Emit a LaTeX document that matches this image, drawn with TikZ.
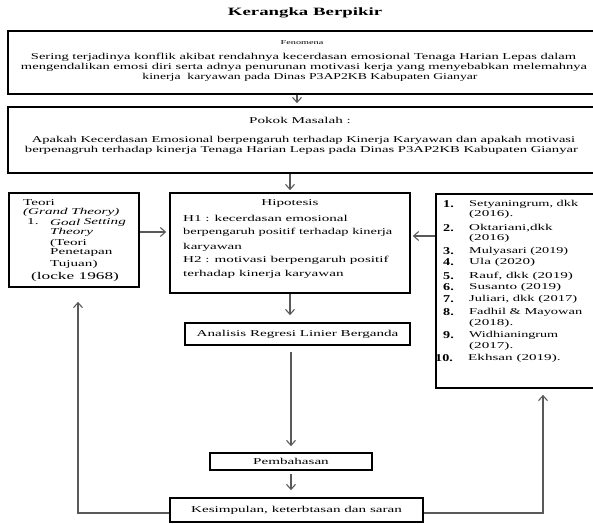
\documentclass[tikz,border=0pt]{standalone}
\usepackage{fontspec}
\usepackage{graphicx}
\setmainfont[FakeStretch=1.68]{Liberation Serif}
\newfontfamily\numfont[FakeStretch=1.35]{Liberation Serif}
\usetikzlibrary{arrows.meta}
\newcommand\fitw[2]{\resizebox{#1}{\height}{#2}}
\tikzset{
  box/.style={draw=black, line width=1.7pt, inner sep=0pt, fill=white},
  arr/.style={draw=black!65, line width=1.1pt, -{Straight Barb[length=5pt,width=9pt]}},
  txt/.style={inner sep=0pt, font=\fontsize{9}{10.3}\selectfont},
  lt/.style={txt, anchor=west},
  num/.style={inner sep=0pt, anchor=west, font=\numfont\fontsize{10.5}{12}\selectfont\bfseries},
}
\begin{document}
\begin{tikzpicture}[x=1pt,y=-1pt]
\useasboundingbox (0,0) rectangle (593,523);
\begin{scope}
\clip (0,0) rectangle (593,523);
% title
\node[inner sep=0pt, font=\fontsize{11.2}{13}\selectfont\bfseries] (title) at (305,13) {Kerangka Berpikir};

% boxes
\node[box, minimum width=594pt, minimum height=63pt] (fen) at (305,62.5) {};
\node[box, minimum width=594pt, minimum height=66pt] (pok) at (305,140) {};
\node[box, minimum width=130pt, minimum height=94pt] (teori) at (74,240) {};
\node[box, minimum width=240pt, minimum height=100pt] (hip) at (290,243) {};
\node[box, minimum width=166pt, minimum height=194pt] (refs) at (519,291) {};
\node[box, minimum width=225pt, minimum height=22pt] (ana) at (297.5,334) {};
\node[box, minimum width=162pt, minimum height=17pt] (pem) at (291,461.5) {};
\node[box, minimum width=253pt, minimum height=24pt] (kes) at (296.5,510) {};

% Fenomena
\node[txt, font=\fontsize{6.1}{8}\selectfont] (fent) at (302,43) {Fenomena};
\node[txt] (fen1) at (303.5,57) {\fitw{545pt}{Sering terjadinya konflik akibat rendahnya kecerdasan emosional Tenaga Harian Lepas dalam}};
\node[txt] (fen2) at (304,67.5) {\fitw{566pt}{mengendalikan emosi diri serta adnya penurunan motivasi kerja yang menyebabkan melemahnya}};
\node[txt] (fen3) at (310,77.5) {\fitw{335pt}{kinerja\ \ karyawan pada Dinas P3AP2KB Kabupaten Gianyar}};

% Pokok
\node[txt] (pokt) at (300,120) {Pokok Masalah :};
\node[txt] (pok1) at (303.5,140) {\fitw{543pt}{Apakah Kecerdasan Emosional berpengaruh terhadap Kinerja Karyawan dan apakah motivasi}};
\node[txt] (pok2) at (301.5,150) {\fitw{553pt}{berpenagruh terhadap kinerja Tenaga Harian Lepas pada Dinas P3AP2KB Kabupaten Gianyar}};

% Teori
\node[lt] (t1) at (23,202.5) {Teori};
\node[lt] (t2) at (23,212) {\itshape (Grand Theory)};
\node[lt] (t3) at (27,222) {1.};
\node[lt] (t4) at (50,222) {\itshape Goal};
\node[txt, anchor=east] (t5) at (126,222) {\itshape Setting};
\node[lt] (t6) at (50,232) {\itshape Theory};
\node[lt] (t7) at (50,243) {(Teori};
\node[lt] (t8) at (50,253) {Penetapan};
\node[lt] (t9) at (50,264) {Tujuan)};
\node[inner sep=0pt, font=\fontsize{10.3}{12}\selectfont] (t10) at (75,277) {(locke 1968)};

% Hipotesis
\node[txt] (h0) at (290,203) {Hipotesis};
\node[lt] (h1) at (183,218) {H1 : kecerdasan emosional};
\node[lt] (h2) at (183,232) {\fitw{209pt}{berpengaruh positif terhadap kinerja}};
\node[lt] (h3) at (183,247) {karyawan};
\node[lt] (h4) at (183,260) {H2 : motivasi berpengaruh positif};
\node[lt] (h5) at (183,274) {terhadap kinerja karyawan};

% References
\node[num] (n1) at (443,204) {1.};
\node[lt] (r1) at (469,204) {\fitw{109pt}{Setyaningrum, dkk}};
\node[lt] (r1b) at (469,214) {(2016).};
\node[num] (n2) at (443,228) {2.};
\node[lt] (r2) at (469,228) {Oktariani,dkk};
\node[lt] (r2b) at (469,238) {(2016)};
\node[num] (n3) at (443,251) {3.};
\node[lt] (r3) at (469,251) {\fitw{99pt}{Mulyasari (2019)}};
\node[num] (n4) at (443,262) {4.};
\node[lt] (r4) at (469,262) {Ula (2020)};
\node[num] (n5) at (443,276) {5.};
\node[lt] (r5) at (469,276) {Rauf, dkk (2019)};
\node[num] (n6) at (443,287) {6.};
\node[lt] (r6) at (469,287) {Susanto (2019)};
\node[num] (n7) at (443,299) {7.};
\node[lt] (r7) at (469,299) {\fitw{108pt}{Juliari, dkk (2017)}};
\node[num] (n8) at (443,312) {8.};
\node[lt] (r8) at (469,312) {\fitw{113pt}{Fadhil \& Mayowan}};
\node[lt] (r8b) at (469,323) {(2018).};
\node[num] (n9) at (443,335) {9.};
\node[lt] (r9) at (469,335) {\fitw{89pt}{Widhianingrum}};
\node[lt] (r9b) at (469,346) {(2017).};
\node[num] (n10) at (435,358) {10.};
\node[lt] (r10) at (468,358) {Ekhsan (2019).};

% small boxes text
\node[txt] (anat) at (297.5,334) {Analisis Regresi Linier Berganda};
\node[txt] (pemt) at (291,461.5) {Pembahasan};
\node[txt] (kest) at (296.5,510) {Kesimpulan, keterbtasan dan saran};

% connectors
\draw[arr, shorten >=3pt] ([xshift=-8pt]fen.south) -- ([xshift=-8pt]pok.north);
\draw[arr, shorten >=2pt] (pok.south -| hip.north) -- (hip.north);
\draw[arr, shorten >=3pt] ([yshift=8pt]teori.east) -- ([yshift=11pt]hip.west);
\draw[arr, shorten >=2pt] ([yshift=55pt]refs.west) -- ([yshift=7pt]hip.east);
\draw[arr, shorten >=7pt] (hip.south) -- (hip.south |- ana.north);
\draw[arr, shorten <=6pt, shorten >=6pt] (ana.south -| pem.north) -- (pem.north);
\draw[arr, shorten <=3pt, shorten >=7pt] (pem.south) -- (pem.south |- kes.north);
\coordinate (lc) at ([xshift=4pt]teori.south);
\coordinate (rc) at ([xshift=24pt]refs.south);
\draw[arr, shorten >=14pt] ([yshift=-3pt]kes.west) -| (lc);
\draw[arr, shorten >=6pt] ([yshift=-3pt]kes.east) -| (rc);
\end{scope}
\end{tikzpicture}
\end{document}
